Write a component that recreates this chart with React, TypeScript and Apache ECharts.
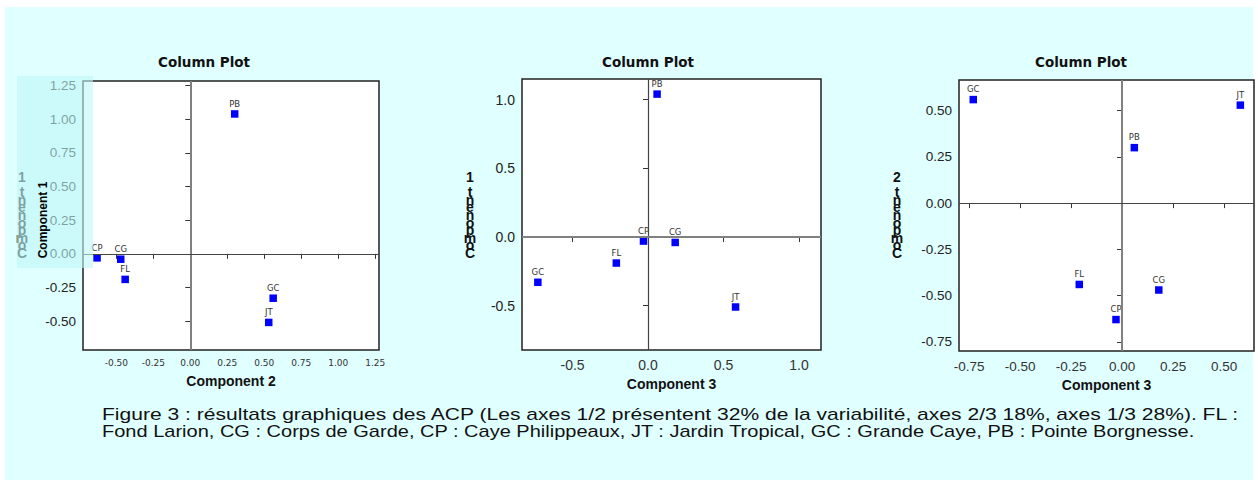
import React, { useEffect, useRef } from "react";
import * as echarts from "echarts";

// ---- data ----
const sites = ["CP", "CG", "FL", "PB", "GC", "JT"];
const component1 = [-0.03, -0.04, -0.19, 1.04, -0.33, -0.51];
const component2 = [-0.63, -0.47, -0.44, 0.3, 0.56, 0.53];
const component3 = [-0.03, 0.18, -0.21, 0.06, -0.73, 0.58];

const ticksQuarterWide = [-0.5, -0.25, 0, 0.25, 0.5, 0.75, 1, 1.25];
const ticksHalf = [-0.5, 0, 0.5, 1.0];
const ticksQuarterNarrow = [-0.75, -0.5, -0.25, 0, 0.25, 0.5];

const plotTitle = "Column Plot";
const captionLine1 =
  "Figure 3 : résultats graphiques des ACP (Les axes 1/2 présentent 32% de la variabilité, axes 2/3 18%, axes 1/3 28%). FL :";
const captionLine2 =
  "Fond Larion, CG : Corps de Garde, CP : Caye Philippeaux, JT : Jardin Tropical, GC : Grande Caye, PB : Pointe Borgnesse.";

const SANS = "Liberation Sans, Arial, sans-serif";
const DEJA = "DejaVu Sans, sans-serif";

function measure(text: string, font: string) {
  const c = document.createElement("canvas").getContext("2d");
  if (!c) return 1;
  c.font = font;
  return c.measureText(text).width || 1;
}

function xAxisDef(gridIndex: number, min: number, max: number, ticks: number[], dec: number, fontSize: number, family: string, name: string) {
  return {
    type: "value",
    gridIndex,
    min,
    max,
    name,
    nameLocation: "middle",
    nameGap: 24,
    nameTextStyle: { fontFamily: SANS, fontWeight: "bold", fontSize: 14, color: "#111" },
    axisLine: { show: false },
    axisTick: { show: true, inside: false, length: 5, customValues: ticks, lineStyle: { color: "#333" } },
    axisLabel: {
      customValues: ticks,
      formatter: (v: number) => v.toFixed(dec),
      fontSize,
      fontFamily: family,
      color: "#333",
      margin: 8,
    },
    splitLine: { show: false },
  };
}

function yAxisDef(gridIndex: number, min: number, max: number, ticks: number[], dec: number, fontSize: number) {
  return {
    type: "value",
    gridIndex,
    min,
    max,
    axisLine: { show: false },
    axisTick: { show: true, inside: false, length: 5, customValues: ticks, lineStyle: { color: "#333" } },
    axisLabel: {
      customValues: ticks,
      formatter: (v: number) => v.toFixed(dec),
      fontSize,
      fontFamily: SANS,
      color: "#222",
      margin: 7,
    },
    splitLine: { show: false },
  };
}

function scatterDef(idx: number, xs: number[], ys: number[], vStyle: any, hStyle: any) {
  return {
    type: "scatter",
    xAxisIndex: idx,
    yAxisIndex: idx,
    symbol: "rect",
    symbolSize: 7.5,
    itemStyle: { color: "#0000ff", opacity: 1 },
    label: {
      show: true,
      position: "top",
      distance: 2,
      formatter: "{b}",
      fontSize: 8.5,
      fontFamily: DEJA,
      color: "#333",
      opacity: 1,
    },
    data: sites.map((s, i) => ({ name: s, value: [xs[i], ys[i]] })),
    markLine: {
      silent: true,
      symbol: ["none", "none"],
      label: { show: false },
      data: [
        { xAxis: 0, lineStyle: { type: "solid", ...vStyle } },
        { yAxis: 0, lineStyle: { type: "solid", ...hStyle } },
      ],
    },
  };
}

function stackedName(cx: number, text: string, color: string, z: number) {
  const chars = text.split("").reverse();
  return chars.map((ch, i) => ({
    type: "text",
    x: cx,
    y: 170 + i * 7.6,
    z,
    style: { text: ch, font: `bold 14px ${SANS}`, fill: color, align: "center", verticalAlign: "top" },
  }));
}

export default function App() {
  const ref = useRef<HTMLDivElement>(null);

  useEffect(() => {
    if (!ref.current) return;
    const chart = echarts.init(ref.current, null, { renderer: "svg" });

    const capFont = `16px ${SANS}`;
    const s1 = 1140 / measure(captionLine1, capFont);
    const s2 = 1094 / measure(captionLine2, capFont);

    const grids = [
      { left: 83, top: 81, width: 296, height: 269 },
      { left: 522, top: 79, width: 299, height: 271 },
      { left: 959, top: 80, width: 295, height: 271 },
    ].map((g) => ({ ...g, show: true, borderColor: "#222", borderWidth: 1.5, backgroundColor: "#fff", containLabel: false }));

    const grey = { color: "#808080", width: 2, opacity: 1 };
    const dark = { color: "#444", width: 1.2, opacity: 1 };

    const option: any = {
      animation: false,
      backgroundColor: "#ffffff",
      grid: grids,
      xAxis: [
        xAxisDef(0, -0.725, 1.275, ticksQuarterWide, 2, 9, DEJA, "Component 2"),
        xAxisDef(1, -0.835, 1.146, ticksHalf, 1, 14, SANS, "Component 3"),
        xAxisDef(2, -0.8, 0.647, ticksQuarterNarrow, 2, 13.5, SANS, "Component 3"),
      ],
      yAxis: [
        yAxisDef(0, -0.715, 1.285, ticksQuarterWide, 2, 13.5),
        yAxisDef(1, -0.823, 1.15, ticksHalf, 1, 14),
        yAxisDef(2, -0.8, 0.666, ticksQuarterNarrow, 2, 13.5),
      ],
      series: [
        scatterDef(0, component2, component1, grey, dark),
        scatterDef(1, component3, component1, dark, grey),
        scatterDef(2, component3, component2, grey, dark),
      ],
      graphic: [
        { type: "rect", z: -10, shape: { x: 5, y: 7, width: 1248, height: 473 }, style: { fill: "#e0ffff" } },
        ...[204, 648, 1081].map((cx) => ({
          type: "text",
          x: cx,
          y: 62,
          z: 5,
          style: { text: plotTitle, font: `bold 13.5px ${DEJA}`, fill: "#111", align: "center", verticalAlign: "middle" },
        })),
        ...stackedName(22, "Component 1", "#222", 5),
        ...stackedName(470, "Component 1", "#111", 5),
        ...stackedName(897, "Component 2", "#111", 5),
        {
          type: "rect",
          z: 50,
          shape: { x: 17, y: 76, width: 76, height: 192 },
          style: { fill: "rgba(190,246,246,0.6)" },
        },
        {
          type: "text",
          x: 43,
          y: 220,
          z: 60,
          rotation: Math.PI / 2,
          style: { text: "Component 1", font: `bold 12px ${SANS}`, fill: "#000", align: "center", verticalAlign: "middle" },
        },
        {
          type: "text",
          x: 102,
          y: 414,
          z: 5,
          scaleX: s1,
          style: { text: captionLine1, font: capFont, fill: "#111", align: "left", verticalAlign: "middle" },
        },
        {
          type: "text",
          x: 102,
          y: 432,
          z: 5,
          scaleX: s2,
          style: { text: captionLine2, font: capFont, fill: "#111", align: "left", verticalAlign: "middle" },
        },
      ],
    };

    chart.setOption(option);
    return () => chart.dispose();
  }, []);

  return <div ref={ref} style={{ position: "absolute", left: 0, top: 0, width: 1258, height: 487 }} />;
}
